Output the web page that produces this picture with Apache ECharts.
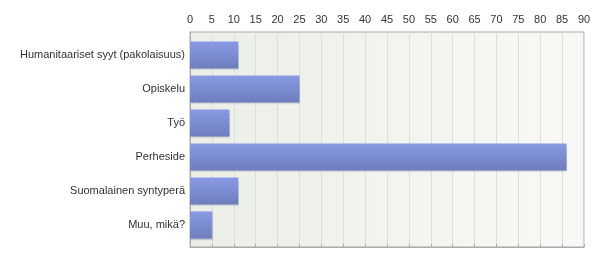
<!DOCTYPE html>
<html><head><meta charset="utf-8">
<script src="https://cdn.jsdelivr.net/npm/echarts@6/dist/echarts.min.js"></script>
<style>html,body{margin:0;padding:0;background:#fff}#c{width:600px;height:262px}</style>
</head><body><div id="c"></div>
<script>
const categories = ['Humanitaariset syyt (pakolaisuus)','Opiskelu','Työ','Perheside','Suomalainen syntyperä','Muu, mikä?'];
const values = [11, 25, 9, 86, 11, 5];
const axisMax = 90;
const axisStep = 5;

const chart = echarts.init(document.getElementById('c'), null, {renderer:'canvas'});
chart.setOption({
  animation:false,
  grid:[
    {left:190, right:16, top:32, bottom:15, show:true, borderColor:'#aaaaaa', borderWidth:1,
      backgroundColor:new echarts.graphic.LinearGradient(0,0,1,0,[{offset:0,color:'#ebefe6'},{offset:1,color:'#f8f9f6'}])},
    {left:190, right:16, top:38, bottom:20}
  ],
  xAxis:[
    {gridIndex:0, type:'value', position:'top', min:0, max:axisMax, interval:axisStep,
      axisLine:{show:true, lineStyle:{color:'#aaaaaa'}},
      axisTick:{show:true, length:3, lineStyle:{color:'#aaaaaa'}},
      axisLabel:{color:'#333', fontFamily:'Liberation Sans', fontSize:11, margin:7},
      splitLine:{show:true, lineStyle:{color:'#dcdfd8'}}},
    {gridIndex:1, type:'value', min:0, max:axisMax, interval:axisStep, show:false}
  ],
  yAxis:[
    {gridIndex:0, type:'value', min:0, max:1, axisLine:{show:true, lineStyle:{color:'#aaaaaa'}},
      axisTick:{show:false}, axisLabel:{show:false}, splitLine:{show:false}},
    {gridIndex:1, type:'category', inverse:true, data:categories,
      axisLine:{show:false}, axisTick:{show:false},
      axisLabel:{color:'#333', fontFamily:'Liberation Sans', fontSize:11, margin:5}}
  ],
  series:[{type:'bar', xAxisIndex:1, yAxisIndex:1, data:values, barCategoryGap:'20%',
    itemStyle:{color:new echarts.graphic.LinearGradient(0,0,0,1,[{offset:0,color:'#8a9ae4'},{offset:1,color:'#6d7dbd'}]),
      shadowColor:'rgba(110,120,170,0.35)', shadowOffsetX:1, shadowOffsetY:1, shadowBlur:1}}]
});
</script></body></html>
